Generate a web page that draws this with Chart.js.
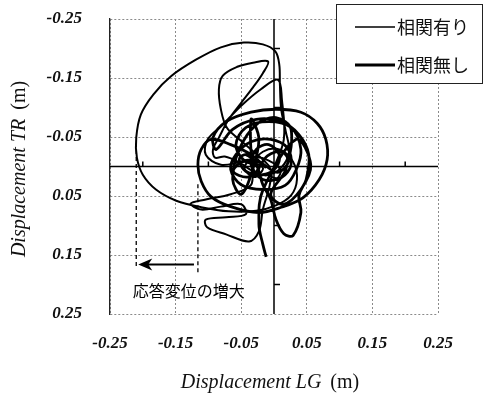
<!DOCTYPE html>
<html>
<head>
<meta charset="utf-8">
<script src="https://cdn.jsdelivr.net/npm/chart.js@4.4.1/dist/chart.umd.min.js"></script>
<style>
  html, body { margin: 0; padding: 0; background: #fff; }
  #wrap { width: 484px; height: 397px; position: relative; }
</style>
</head>
<body>
<div id="wrap"><canvas id="orbit"></canvas></div>
<script>
// tick labels (both axes)
const axisTicks  = [-0.25, -0.15, -0.05, 0.05, 0.15, 0.25];
const minorTicks = [-0.2, -0.1, 0.1, 0.2];
const seriesNames = ['相関有り', '相関無し'];

// 相関有り (thin) : LG, TR (m)
const withCorrX = [-0.005,-0.017,-0.035,-0.053,-0.072,-0.081,-0.084,-0.078,-0.056,-0.032,-0.009,-0.017,-0.032,-0.050,-0.069,-0.084,-0.093,-0.090,-0.075,-0.053,
  -0.032,-0.011,0.011,0.023,0.018,0.011,0.009,0.008,0.002,-0.017,-0.046,-0.081,-0.119,-0.157,-0.184,-0.203,-0.210,-0.209,-0.200,-0.180,
  -0.149,-0.111,-0.069,-0.027,0.003,0.026,0.035,0.029,0.008,-0.017,-0.032,-0.035,-0.066,-0.104,-0.127,-0.111,-0.081,-0.050,-0.043,-0.073,
  -0.104,-0.102,-0.073,-0.038,-0.023,-0.017,-0.008,-0.002,0.015,0.012,0.006,-0.020,-0.050,-0.078,-0.101,-0.104,-0.081,-0.043,-0.017,
  -0.030,-0.045,-0.030,-0.008,0.010,0.004,-0.012];
const withCorrY = [0.002,-0.012,-0.029,-0.046,-0.066,-0.097,-0.131,-0.154,-0.169,-0.176,-0.178,-0.158,-0.134,-0.108,-0.080,-0.049,-0.029,-0.015,-0.017,-0.007,
  0.008,0.015,0.002,-0.025,-0.059,-0.097,-0.139,-0.173,-0.195,-0.207,-0.210,-0.202,-0.181,-0.153,-0.122,-0.088,-0.049,-0.015,0.014,0.039,
  0.058,0.069,0.076,0.075,0.066,0.049,0.022,-0.008,-0.029,-0.025,-0.003,0.031,0.047,0.056,0.063,0.073,0.068,0.064,0.081,0.086,
  0.090,0.103,0.115,0.127,0.110,0.073,0.039,0.008,-0.046,-0.114,-0.147,-0.131,-0.103,-0.071,-0.046,-0.020,-0.003,-0.008,0.002,
  0.018,0.002,-0.015,-0.010,0.006,0.020,0.012];

// 相関無し (thick)
const noCorrX = [-0.012,-0.035,-0.066,-0.096,-0.111,-0.116,-0.111,-0.096,-0.066,-0.023,0.011,0.044,0.069,0.081,0.079,0.066,0.041,0.003,-0.035,-0.073,
  -0.093,-0.088,-0.063,-0.027,0.011,0.038,0.053,0.049,0.038,0.041,0.029,0.015,0.003,-0.005,-0.017,-0.027,-0.043,-0.053,-0.043,-0.017,
  0.003,0.008,-0.008,-0.027,-0.035,-0.017,0.011,0.026,0.020,-0.005,-0.035,-0.058,-0.066,-0.050,-0.017,0.017,0.034,0.041,0.026,-0.008,
  -0.043,-0.058,-0.047,-0.023,-0.040,-0.062,-0.045,-0.020,0.005,0.022,0.012,-0.010,-0.030,
  -0.035,-0.023,-0.035,-0.050,-0.063,-0.053,-0.027,0.003,0.026,0.018,-0.005,0.014,0.041,0.056,0.034,
  -0.017,-0.023,-0.017,-0.012];
const noCorrY = [0.002,-0.020,-0.037,-0.046,-0.029,-0.003,0.025,0.051,0.068,0.078,0.069,0.053,0.022,-0.012,-0.046,-0.073,-0.092,-0.097,-0.092,-0.076,
  -0.049,-0.029,-0.063,-0.080,-0.076,-0.054,-0.020,0.022,0.049,0.078,0.117,0.114,0.090,0.056,0.031,-0.003,-0.020,-0.012,0.008,0.014,
  0.002,-0.020,-0.037,-0.029,-0.003,0.022,0.019,-0.003,-0.032,-0.046,-0.042,-0.020,0.005,0.031,0.039,0.032,0.005,-0.029,-0.066,-0.076,
  -0.066,-0.037,-0.012,0.002,0.018,0.008,-0.010,-0.006,0.010,-0.008,-0.025,-0.018,0.010,
  -0.080,-0.046,0.014,0.047,0.022,-0.029,-0.071,-0.083,-0.063,0.005,0.047,0.064,0.039,-0.003,-0.046,
  0.040,0.098,0.132,0.153];

// annotation: max displacement markers
const markWith = -0.210, markNo = -0.116;
const annotText = '応答変位の増大';

const toPts = (xs, ys) => xs.map((x, i) => ({ x, y: ys[i] }));
const serif = '"Liberation Serif", "DejaVu Serif", serif';
const cjk = '"Noto Sans CJK JP", sans-serif';

const decor = {
  id: 'decor',
  beforeDatasetsDraw(chart) {
    const { ctx, chartArea: a, scales: { x, y } } = chart;
    const x0 = x.getPixelForValue(0), y0 = y.getPixelForValue(0);
    ctx.save();
    ctx.strokeStyle = '#000';
    ctx.lineWidth = 1.5;
    ctx.beginPath();
    ctx.moveTo(a.left, y0); ctx.lineTo(a.right, y0);
    ctx.moveTo(x0, a.top); ctx.lineTo(x0, a.bottom);
    minorTicks.forEach(v => {
      const px = x.getPixelForValue(v), py = y.getPixelForValue(v);
      ctx.moveTo(px, y0); ctx.lineTo(px, y0 - 5);
      ctx.moveTo(x0, py); ctx.lineTo(x0 + 6, py);
    });
    ctx.stroke();
    ctx.restore();
  },
  afterDraw(chart) {
    const { ctx, scales: { x, y } } = chart;
    ctx.save();
    // dashed markers + arrow
    ctx.strokeStyle = '#000';
    ctx.lineWidth = 1.3;
    ctx.setLineDash([4, 3]);
    ctx.beginPath();
    ctx.moveTo(x.getPixelForValue(markWith), y.getPixelForValue(-0.04));
    ctx.lineTo(x.getPixelForValue(markWith), y.getPixelForValue(0.17));
    ctx.moveTo(x.getPixelForValue(markNo), y.getPixelForValue(0.03));
    ctx.lineTo(x.getPixelForValue(markNo), y.getPixelForValue(0.183));
    ctx.stroke();
    ctx.setLineDash([]);
    const ay = y.getPixelForValue(0.166);
    const ax1 = x.getPixelForValue(-0.122), ax0 = x.getPixelForValue(markWith) + 2;
    ctx.lineWidth = 2;
    ctx.beginPath();
    ctx.moveTo(ax1, ay); ctx.lineTo(ax0 + 8, ay);
    ctx.stroke();
    ctx.beginPath();
    ctx.moveTo(ax0, ay); ctx.lineTo(ax0 + 14, ay - 6); ctx.lineTo(ax0 + 10, ay); ctx.lineTo(ax0 + 14, ay + 6);
    ctx.closePath();
    ctx.fillStyle = '#000';
    ctx.fill();
    ctx.font = '16px ' + cjk;
    ctx.textAlign = 'center';
    ctx.textBaseline = 'middle';
    ctx.fillText(annotText, x.getPixelForValue(-0.13), y.getPixelForValue(0.211));

    // axis titles, italic part + (m)
    const drawTitle = (cx, cy, rot, ital) => {
      ctx.save();
      ctx.translate(cx, cy);
      ctx.rotate(rot);
      ctx.font = 'italic 20px ' + serif;
      const w1 = ctx.measureText(ital).width;
      ctx.font = '20px ' + serif;
      const w2 = ctx.measureText('(m)').width;
      const gap = 9, start = -(w1 + gap + w2) / 2;
      ctx.textAlign = 'left';
      ctx.textBaseline = 'middle';
      ctx.fillStyle = '#111';
      ctx.font = 'italic 20px ' + serif;
      ctx.fillText(ital, start, 0);
      ctx.font = '20px ' + serif;
      ctx.fillText('(m)', start + w1 + gap, 0);
      ctx.restore();
    };
    drawTitle(270, 383, 0, 'Displacement LG');
    drawTitle(20, 169, -Math.PI / 2, 'Displacement TR');

    // legend box
    ctx.fillStyle = '#fff';
    ctx.fillRect(336, 4, 147, 80);
    ctx.strokeStyle = '#222';
    ctx.lineWidth = 1;
    ctx.strokeRect(336.5, 4.5, 146, 79);
    [[27, 1.5], [65, 3]].forEach(([ly, lw], i) => {
      ctx.strokeStyle = '#000';
      ctx.lineWidth = lw;
      ctx.beginPath();
      ctx.moveTo(355, ly); ctx.lineTo(395, ly);
      ctx.stroke();
      ctx.fillStyle = '#111';
      ctx.font = '18px ' + cjk;
      ctx.textAlign = 'left';
      ctx.textBaseline = 'middle';
      ctx.fillText(seriesNames[i], 397, ly);
    });
    ctx.restore();
  }
};

const tickFont = { family: serif, size: 17, style: 'italic', weight: 'bold' };
const setTicks = s => { s.ticks = axisTicks.map(v => ({ value: v })); };

new Chart(document.getElementById('orbit'), {
  type: 'scatter',
  data: {
    datasets: [
      { label: seriesNames[0], data: toPts(withCorrX, withCorrY), showLine: true,
        borderColor: '#000', borderWidth: 2, pointRadius: 0, tension: 0.35 },
      { label: seriesNames[1], data: toPts(noCorrX, noCorrY), showLine: true,
        borderColor: '#000', borderWidth: 2.8, pointRadius: 0, tension: 0.35 }
    ]
  },
  options: {
    responsive: true, maintainAspectRatio: false, animation: false,
    layout: { padding: { top: 19, right: 46, left: 0, bottom: 0 } },
    plugins: { legend: { display: false }, tooltip: { enabled: false } },
    scales: {
      x: {
        min: -0.25, max: 0.25,
        afterBuildTicks: setTicks,
        afterFit: s => { s.height = 83; s.paddingLeft = 0; s.paddingRight = 0; },
        grid: { color: '#8a8a8a', lineWidth: 1, drawTicks: false },
        border: { display: false, dash: [2, 2] },
        ticks: { font: tickFont, color: '#111', padding: 19, maxRotation: 0, callback: v => v.toFixed(2) }
      },
      y: {
        min: -0.25, max: 0.25, reverse: true,
        afterBuildTicks: setTicks,
        afterFit: s => { s.width = 110; s.paddingTop = 0; s.paddingBottom = 0; },
        grid: { color: '#8a8a8a', lineWidth: 1, drawTicks: false },
        border: { display: true, color: '#222', width: 1.3, dash: [2, 2] },
        ticks: { font: tickFont, color: '#111', padding: 28, callback: v => v.toFixed(2) }
      }
    }
  },
  plugins: [decor]
});
</script>
</body>
</html>
